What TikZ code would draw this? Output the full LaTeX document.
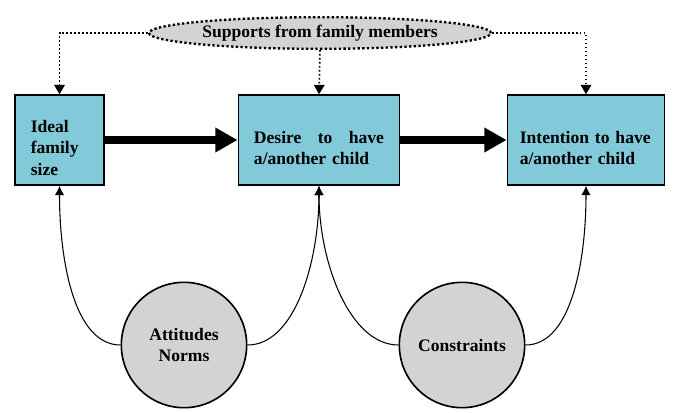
\documentclass[tikz,border=0pt]{standalone}
\usepackage{fontspec}
\setmainfont{Liberation Serif}
\usepackage{xcolor}
\definecolor{cBox}{HTML}{82CAD9}
\definecolor{cCircle}{HTML}{D1D3D4}
\usepackage{tikz}
\usetikzlibrary{arrows.meta,shapes.geometric}
% pushes the box text a little below the middle
\newcommand{\boxlead}{\rule{0pt}{24pt}}
\tikzset{
  node-box/.style={draw=black,line width=1.6pt,fill=cBox,minimum height=76.5pt,
    align=left,font=\fontsize{15}{18.7}\selectfont\bfseries,inner sep=0pt},
  node-factor/.style={draw=black,line width=1.4pt,fill=cCircle,circle,
    minimum size=107pt,align=center,font=\fontsize{15}{18}\selectfont\bfseries},
  node-support/.style={draw=black,line width=2pt,dotted,fill=cCircle,ellipse,
    minimum width=292pt,minimum height=27pt,inner sep=0pt,
    font=\fontsize{15}{18}\selectfont\bfseries},
  arrow-main/.style={-{Triangle[length=19pt,width=20pt]},line width=7pt},
  arrow-support/.style={-{Triangle[length=8pt,width=9pt]},line width=1.4pt,dotted},
  arrow-factor/.style={-{Latex[length=8pt,width=8pt]},line width=0.9pt},
}
\begin{document}
\begin{tikzpicture}[x=0.3mm,y=-0.3mm]
  \useasboundingbox (0,0) rectangle (676,412);
  % boxes
  \node[node-box,minimum width=75.5pt,text width=49pt] (ideal) at (59.5,140)
    {\boxlead Ideal\\family\\size};
  \node[node-box,minimum width=137.5pt,text width=111pt] (desire) at (319,140)
    {\boxlead Desire\hfill to\hfill have\\a/another child};
  \node[node-box,minimum width=134pt,text width=113pt] (intent) at (586,140)
    {\boxlead Intention to have\\a/another child};
  % supports and factors
  \node[node-support] (supports) at (320,33) {\strut Supports from family members};
  \node[node-factor] (attitudes) at (184,345) {Attitudes\\Norms};
  \node[node-factor] (constraints) at (462,345) {Constraints};
  % main path
  \draw[arrow-main] (ideal.east) -- (desire.west);
  \draw[arrow-main] (desire.east) -- (intent.west);
  % supports
  \draw[arrow-support] (supports.west) -| (ideal.north);
  \draw[arrow-support] (supports.south) -- (desire.north);
  \draw[arrow-support] (supports.east) -| (intent.north);
  % factors
  \draw[arrow-factor] (attitudes.west)
    to[out=180,in=-90,out looseness=0.7,in looseness=1.1] (ideal.south);
  \draw[arrow-factor] (attitudes.east)
    to[out=0,in=-90,out looseness=0.7,in looseness=1.1] (desire.south);
  \draw[arrow-factor] (constraints.west)
    to[out=180,in=-90,out looseness=0.7,in looseness=1.1] (desire.south);
  \draw[arrow-factor] (constraints.east)
    to[out=0,in=-90,out looseness=0.7,in looseness=1.1] (intent.south);
\end{tikzpicture}
\end{document}
